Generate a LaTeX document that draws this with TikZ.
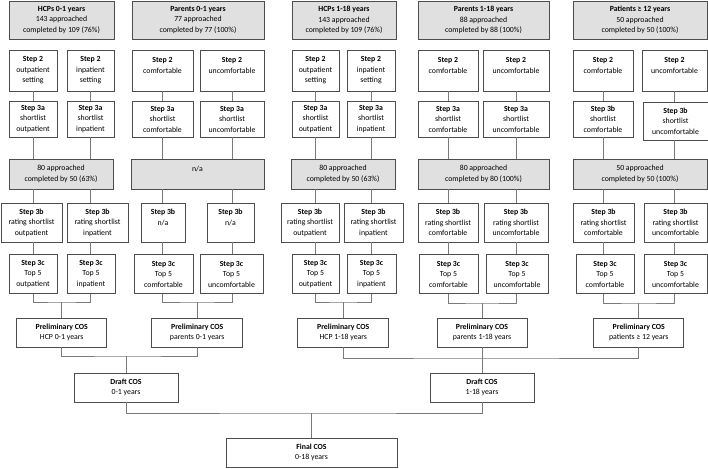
\documentclass[tikz,border=0pt]{standalone}
\usepackage{fontspec}
\setmainfont{Carlito}

\definecolor{bordGris}{HTML}{4D4D4D}
\definecolor{fondGris}{HTML}{E0E0E0}
\definecolor{lienGris}{HTML}{7A7A7A}

\tikzset{
  boite/.style={draw=bordGris, line width=0.8pt, fill=white, align=center,
    inner sep=0pt, font=\fontsize{7.8}{10.5}\selectfont},
  entete/.style={boite, fill=fondGris},
  lien/.style={draw=lienGris, line width=0.8pt},
}

\begin{document}
\begin{tikzpicture}[x=1pt, y=-1pt]

  \useasboundingbox (0,0) rectangle (708,468);

  % Hauteurs des rangées (centres des boîtes)
  \def\yTete{20}
  \def\yDeux{70.5}
  \def\yTroisA{119}
  \def\yMilieu{174}
  \def\yTroisB{222.5}
  \def\yTroisC{274}
  \def\yPrelim{332.5}

  % Colonnes des deux branches de chaque groupe
  \coordinate (colaa) at (33,0);
  \coordinate (colab) at (90.5,0);
  \coordinate (colba) at (162.5,0);
  \coordinate (colbb) at (232,0);
  \coordinate (colca) at (315.5,0);
  \coordinate (colcb) at (371,0);
  \coordinate (colda) at (448,0);
  \coordinate (coldb) at (516,0);
  \coordinate (colea) at (603,0);
  \coordinate (coleb) at (674.5,0);

  % En-têtes des cinq groupes (fond gris)
  \node[entete, minimum width=105pt, minimum height=38pt] (hA) at (61.5,\yTete) {\textbf{HCPs 0-1 years}\\143 approached\\completed by 109 (76\%)};
  \node[entete, minimum width=132pt, minimum height=38pt] (hB) at (198,\yTete) {\textbf{Parents 0-1 years}\\77 approached\\completed by 77 (100\%)};
  \node[entete, minimum width=104pt, minimum height=38pt] (hC) at (344,\yTete) {\textbf{HCPs 1-18 years}\\143 approached\\completed by 109 (76\%)};
  \node[entete, minimum width=131pt, minimum height=38pt] (hD) at (483.5,\yTete) {\textbf{Parents 1-18 years}\\88 approached\\completed by 88 (100\%)};
  \node[entete, minimum width=134pt, minimum height=38pt] (hE) at (640,\yTete) {\textbf{Patients ≥ 12 years}\\50 approached\\completed by 50 (100\%)};

  % Étape 2
  \node[boite, minimum width=48pt, minimum height=41pt] (aa2) at (33,\yDeux) {\textbf{Step 2}\\outpatient\\setting};
  \node[boite, minimum width=47pt, minimum height=41pt] (ab2) at (90.5,\yDeux) {\textbf{Step 2}\\inpatient\\setting};
  \node[boite, minimum width=61pt, minimum height=41pt] (ba2) at (162.5,\yDeux) {\textbf{Step 2}\\comfortable\\~};
  \node[boite, minimum width=64pt, minimum height=41pt] (bb2) at (232,\yDeux) {\textbf{Step 2}\\uncomfortable\\~};
  \node[boite, minimum width=47pt, minimum height=41pt] (ca2) at (315.5,\yDeux) {\textbf{Step 2}\\outpatient\\setting};
  \node[boite, minimum width=48pt, minimum height=41pt] (cb2) at (371,\yDeux) {\textbf{Step 2}\\inpatient\\setting};
  \node[boite, minimum width=60pt, minimum height=41pt] (da2) at (448,\yDeux) {\textbf{Step 2}\\comfortable\\~};
  \node[boite, minimum width=66pt, minimum height=41pt] (db2) at (516,\yDeux) {\textbf{Step 2}\\uncomfortable\\~};
  \node[boite, minimum width=60pt, minimum height=41pt] (ea2) at (603,\yDeux) {\textbf{Step 2}\\comfortable\\~};
  \node[boite, minimum width=65pt, minimum height=41pt] (eb2) at (674.5,\yDeux) {\textbf{Step 2}\\uncomfortable\\~};

  % Étape 3a (3b pour les patients)
  \node[boite, minimum width=48pt, minimum height=36pt] (aa3a) at (33,\yTroisA) {\textbf{Step 3a}\\shortlist\\outpatient};
  \node[boite, minimum width=47pt, minimum height=36pt] (ab3a) at (90.5,\yTroisA) {\textbf{Step 3a}\\shortlist\\inpatient};
  \node[boite, minimum width=61pt, minimum height=36pt] (ba3a) at (162.5,\yTroisA) {\textbf{Step 3a}\\shortlist\\comfortable};
  \node[boite, minimum width=64pt, minimum height=36pt] (bb3a) at (232,\yTroisA) {\textbf{Step 3a}\\shortlist\\uncomfortable};
  \node[boite, minimum width=47pt, minimum height=36pt] (ca3a) at (315.5,\yTroisA) {\textbf{Step 3a}\\shortlist\\outpatient};
  \node[boite, minimum width=48pt, minimum height=36pt] (cb3a) at (371,\yTroisA) {\textbf{Step 3a}\\shortlist\\inpatient};
  \node[boite, minimum width=60pt, minimum height=36pt] (da3a) at (448,\yTroisA) {\textbf{Step 3a}\\shortlist\\comfortable};
  \node[boite, minimum width=66pt, minimum height=36pt] (db3a) at (516,\yTroisA) {\textbf{Step 3a}\\shortlist\\uncomfortable};
  \node[boite, minimum width=60pt, minimum height=36pt] (ea3a) at (603,\yTroisA) {\textbf{Step 3b}\\shortlist\\comfortable};
  \node[boite, minimum width=65pt, minimum height=38pt] (eb3a) at (675.5,121) {\textbf{Step 3b}\\shortlist\\uncomfortable};

  % Deuxième tour (fond gris)
  \node[entete, minimum width=104pt, minimum height=30pt] (mA) at (61,\yMilieu) {80 approached\\completed by 50 (63\%)};
  \node[entete, minimum width=133pt, minimum height=30pt] (mB) at (197.5,\yMilieu) {n/a\\~};
  \node[entete, minimum width=104pt, minimum height=30pt] (mC) at (343,\yMilieu) {80 approached\\completed by 50 (63\%)};
  \node[entete, minimum width=131pt, minimum height=30pt] (mD) at (483.5,\yMilieu) {80 approached\\completed by 80 (100\%)};
  \node[entete, minimum width=134pt, minimum height=30pt] (mE) at (640,\yMilieu) {50 approached\\completed by 50 (100\%)};

  % Étape 3b
  \node[boite, minimum width=61pt, minimum height=39pt] (aa3b) at (31.5,\yTroisB) {\textbf{Step 3b}\\rating shortlist\\outpatient};
  \node[boite, minimum width=61pt, minimum height=39pt] (ab3b) at (97.5,\yTroisB) {\textbf{Step 3b}\\rating shortlist\\inpatient};
  \node[boite, minimum width=44pt, minimum height=39pt] (ba3b) at (163,\yTroisB) {\textbf{Step 3b}\\n/a\\~};
  \node[boite, minimum width=47pt, minimum height=39pt] (bb3b) at (230.5,\yTroisB) {\textbf{Step 3b}\\n/a\\~};
  \node[boite, minimum width=58pt, minimum height=39pt] (ca3b) at (310,\yTroisB) {\textbf{Step 3b}\\rating shortlist\\outpatient};
  \node[boite, minimum width=59pt, minimum height=39pt] (cb3b) at (373.5,\yTroisB) {\textbf{Step 3b}\\rating shortlist\\inpatient};
  \node[boite, minimum width=60pt, minimum height=39pt] (da3b) at (448,\yTroisB) {\textbf{Step 3b}\\rating shortlist\\comfortable};
  \node[boite, minimum width=64pt, minimum height=39pt] (db3b) at (516,\yTroisB) {\textbf{Step 3b}\\rating shortlist\\uncomfortable};
  \node[boite, minimum width=61pt, minimum height=39pt] (ea3b) at (603.5,\yTroisB) {\textbf{Step 3b}\\rating shortlist\\comfortable};
  \node[boite, minimum width=63pt, minimum height=39pt] (eb3b) at (675.5,\yTroisB) {\textbf{Step 3b}\\rating shortlist\\uncomfortable};

  % Étape 3c
  \node[boite, minimum width=48pt, minimum height=39pt] (aa3c) at (33,\yTroisC) {\textbf{Step 3c}\\Top 5\\outpatient};
  \node[boite, minimum width=48pt, minimum height=39pt] (ab3c) at (91,\yTroisC) {\textbf{Step 3c}\\Top 5\\inpatient};
  \node[boite, minimum width=59pt, minimum height=39pt] (ba3c) at (163.5,\yTroisC) {\textbf{Step 3c}\\Top 5\\comfortable};
  \node[boite, minimum width=63pt, minimum height=39pt] (bb3c) at (231.5,\yTroisC) {\textbf{Step 3c}\\Top 5\\uncomfortable};
  \node[boite, minimum width=47pt, minimum height=39pt] (ca3c) at (315.5,\yTroisC) {\textbf{Step 3c}\\Top 5\\outpatient};
  \node[boite, minimum width=49pt, minimum height=39pt] (cb3c) at (371.5,\yTroisC) {\textbf{Step 3c}\\Top 5\\inpatient};
  \node[boite, minimum width=59pt, minimum height=39pt] (da3c) at (448.5,\yTroisC) {\textbf{Step 3c}\\Top 5\\comfortable};
  \node[boite, minimum width=62pt, minimum height=39pt] (db3c) at (517,\yTroisC) {\textbf{Step 3c}\\Top 5\\uncomfortable};
  \node[boite, minimum width=58pt, minimum height=39pt] (ea3c) at (605,\yTroisC) {\textbf{Step 3c}\\Top 5\\comfortable};
  \node[boite, minimum width=63pt, minimum height=39pt] (eb3c) at (675.5,\yTroisC) {\textbf{Step 3c}\\Top 5\\uncomfortable};

  % COS préliminaires
  \node[boite, minimum width=90pt, minimum height=29pt] (pA) at (61.75,\yPrelim) {\textbf{Preliminary COS}\\HCP 0-1 years};
  \node[boite, minimum width=91pt, minimum height=29pt] (pB) at (197.25,\yPrelim) {\textbf{Preliminary COS}\\parents 0-1 years};
  \node[boite, minimum width=91pt, minimum height=29pt] (pC) at (343.25,\yPrelim) {\textbf{Preliminary COS}\\HCP 1-18 years};
  \node[boite, minimum width=90pt, minimum height=29pt] (pD) at (482,\yPrelim) {\textbf{Preliminary COS}\\parents 1-18 years};
  \node[boite, minimum width=90pt, minimum height=29pt] (pE) at (638.75,\yPrelim) {\textbf{Preliminary COS}\\patients ≥ 12 years};

  % COS provisoires et COS final
  \node[boite, minimum width=104pt, minimum height=29pt] (dA) at (126,387.5) {\textbf{Draft COS}\\0-1 years};
  \node[boite, minimum width=104pt, minimum height=29pt] (dB) at (482,387.5) {\textbf{Draft COS}\\1-18 years};
  \node[boite, minimum width=171pt, minimum height=29pt] (fin) at (311.5,452.5) {\textbf{Final COS}\\0-18 years};

  % Traits verticaux de chaque colonne
  \draw[lien] (colaa |- aa2.south) -- (colaa |- aa3a.north) (colaa |- aa3a.south) -- (colaa |- mA.north) (colaa |- mA.south) -- (colaa |- aa3b.north) (colaa |- aa3b.south) -- (colaa |- aa3c.north);
  \draw[lien] (colab |- ab2.south) -- (colab |- ab3a.north) (colab |- ab3a.south) -- (colab |- mA.north) (colab |- mA.south) -- (colab |- ab3b.north) (colab |- ab3b.south) -- (colab |- ab3c.north);
  \draw[lien] (colba |- ba2.south) -- (colba |- ba3a.north) (colba |- ba3a.south) -- (colba |- mB.north) (colba |- mB.south) -- (colba |- ba3b.north) (colba |- ba3b.south) -- (colba |- ba3c.north);
  \draw[lien] (colbb |- bb2.south) -- (colbb |- bb3a.north) (colbb |- bb3a.south) -- (colbb |- mB.north) (colbb |- mB.south) -- (colbb |- bb3b.north) (colbb |- bb3b.south) -- (colbb |- bb3c.north);
  \draw[lien] (colca |- ca2.south) -- (colca |- ca3a.north) (colca |- ca3a.south) -- (colca |- mC.north) (colca |- mC.south) -- (colca |- ca3b.north) (colca |- ca3b.south) -- (colca |- ca3c.north);
  \draw[lien] (colcb |- cb2.south) -- (colcb |- cb3a.north) (colcb |- cb3a.south) -- (colcb |- mC.north) (colcb |- mC.south) -- (colcb |- cb3b.north) (colcb |- cb3b.south) -- (colcb |- cb3c.north);
  \draw[lien] (colda |- da2.south) -- (colda |- da3a.north) (colda |- da3a.south) -- (colda |- mD.north) (colda |- mD.south) -- (colda |- da3b.north) (colda |- da3b.south) -- (colda |- da3c.north);
  \draw[lien] (coldb |- db2.south) -- (coldb |- db3a.north) (coldb |- db3a.south) -- (coldb |- mD.north) (coldb |- mD.south) -- (coldb |- db3b.north) (coldb |- db3b.south) -- (coldb |- db3c.north);
  \draw[lien] (colea |- ea2.south) -- (colea |- ea3a.north) (colea |- ea3a.south) -- (colea |- mE.north) (colea |- mE.south) -- (colea |- ea3b.north) (colea |- ea3b.south) -- (colea |- ea3c.north);
  \draw[lien] (coleb |- eb2.south) -- (coleb |- eb3a.north) (coleb |- eb3a.south) -- (coleb |- mE.north) (coleb |- mE.south) -- (coleb |- eb3b.north) (coleb |- eb3b.south) -- (coleb |- eb3c.north);

  % Réunion des deux branches vers le COS préliminaire
  \coordinate (jA) at (61.75,302);
  \coordinate (jB) at (197.25,302);
  \coordinate (jC) at (343.25,302);
  \coordinate (jD) at (482,303);
  \coordinate (jE) at (638.75,303);
  \draw[lien] (colaa |- aa3c.south) |- (jA) -| (colab |- ab3c.south);
  \draw[lien] (colba |- ba3c.south) |- (jB) -| (colbb |- bb3c.south);
  \draw[lien] (colca |- ca3c.south) |- (jC) -| (colcb |- cb3c.south);
  \draw[lien] (colda |- da3c.south) |- (jD) -| (coldb |- db3c.south);
  \draw[lien] (colea |- ea3c.south) |- (jE) -| (coleb |- eb3c.south);
  \draw[lien] (jA) -- (pA.north);
  \draw[lien] (jB) -- (pB.north);
  \draw[lien] (jC) -- (pC.north);
  \draw[lien] (jD) -- (pD.north);
  \draw[lien] (jE) -- (pE.north);

  % Vers les COS provisoires puis le COS final
  \coordinate (jGauche) at (126,356);
  \coordinate (jDroite) at (482,358);
  \coordinate (jFinal) at (311.5,413);
  \draw[lien] (pA.south) |- (jGauche) -| (pB.south);
  \draw[lien] (jGauche) -- (dA.north);
  \draw[lien] (pC.south) |- (jDroite) -| (pE.south);
  \draw[lien] (pD.south) -- (dB.north);
  \draw[lien] (dA.south) |- (jFinal) -| (dB.south);
  \draw[lien] (jFinal) -- (fin.north);

\end{tikzpicture}
\end{document}
